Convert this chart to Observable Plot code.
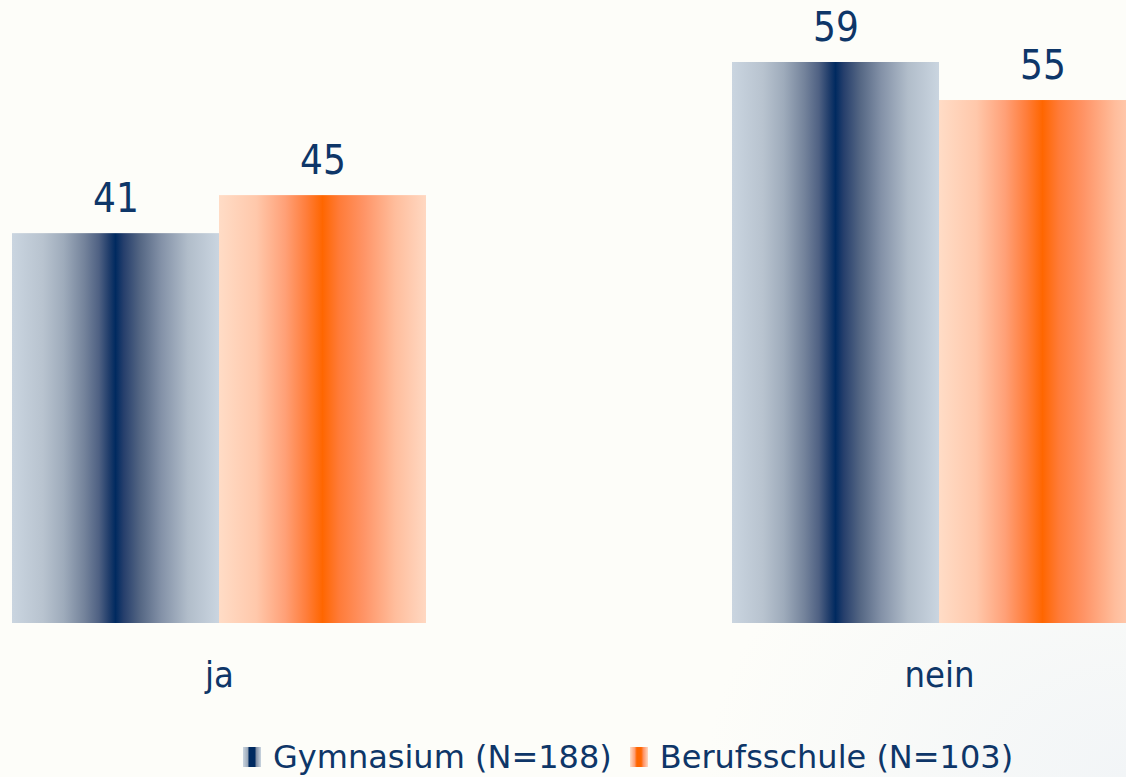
<!DOCTYPE html>
<html lang="de">
<head>
<meta charset="utf-8">
<script src="https://cdn.jsdelivr.net/npm/d3@7"></script>
<script src="https://cdn.jsdelivr.net/npm/@observablehq/plot@0.6"></script>
<style>
  html, body {
    margin: 0;
    padding: 0;
    width: 1126px;
    height: 777px;
    overflow: hidden;
    background: radial-gradient(ellipse 420px 320px at 1126px 777px, #f2f5f7 0%, #fdfdf9 100%), #fdfdf9;
  }
  #chart { position: absolute; left: 0; top: 0; }
  #legend {
    position: absolute;
    left: 243px;
    top: 739px;
    height: 36px;
    display: flex;
    align-items: center;
    font-family: "DejaVu Sans", Verdana, sans-serif;
    font-size: 32px;
    line-height: 36px;
    color: #0e3668;
    white-space: nowrap;
  }
  #legend .swatch { width: 18px; height: 20px; margin-right: 12px; }
  #legend .item { display: flex; align-items: center; margin-right: 18px; }
</style>
</head>
<body>
<div id="chart"></div>
<div id="legend"></div>
<script>
// Answers on the horizontal axis and the two school types
const categories = ["ja", "nein"];
const series = ["Gymnasium", "Berufsschule"];
// Percentages per answer
const gymnasium = [41, 59];
const berufsschule = [45, 55];
const legendLabels = ["Gymnasium (N=188)", "Berufsschule (N=103)"];

const navy = "#0e3668";

const rows = categories.flatMap((answer, i) => [
  {answer, school: series[0], value: gymnasium[i]},
  {answer, school: series[1], value: berufsschule[i]}
]);

// Horizontal gradients used to fill the bars (light edges, saturated centre)
const gradients = {
  gradG: [
    [0, "#cad5e0"], [0.15, "#b8c3cf"], [0.25, "#9eabbb"], [0.35, "#74839b"],
    [0.42, "#4f6183"], [0.47, "#1f3c6a"], [0.5, "#002a60"], [0.54, "#263f6c"],
    [0.62, "#556784"], [0.72, "#8391a7"], [0.85, "#b1bdca"], [1, "#cad5e0"]
  ],
  gradB: [
    [0, "#ffdcc6"], [0.18, "#ffc8ab"], [0.32, "#ffa077"], [0.42, "#ff7e3c"],
    [0.5, "#ff6600"], [0.58, "#ff7b38"], [0.7, "#ff9466"], [0.85, "#ffbd9c"],
    [1, "#ffd8c2"]
  ]
};

function gradientDefs() {
  const defs = d3.create("svg:defs");
  for (const [id, stops] of Object.entries(gradients)) {
    const g = defs.append("linearGradient")
      .attr("id", id)
      .attr("x1", "0").attr("x2", "1").attr("y1", "0").attr("y2", "0");
    for (const [offset, color] of stops) {
      g.append("stop").attr("offset", offset).attr("stop-color", color);
    }
  }
  return defs.node();
}

const chart = Plot.plot({
  width: 1126,
  height: 725,
  marginTop: 0,
  marginBottom: 102,
  marginLeft: 12,
  marginRight: 0,
  style: {
    fontFamily: '"DejaVu Sans Condensed", "DejaVu Sans", Tahoma, sans-serif',
    fontStretch: "condensed",
    color: navy,
    background: "transparent",
    overflow: "visible"
  },
  fx: {domain: categories, range: [12, 1146], paddingInner: 0.425, paddingOuter: 0, label: null},
  x: {domain: series, padding: 0, axis: null},
  y: {domain: [0, 59], range: [623, 62], axis: null},
  marks: [
    gradientDefs,
    Plot.barY(rows, {
      filter: d => d.school === series[0],
      fx: "answer", x: "school", y: "value",
      fill: "url(#gradG)"
    }),
    Plot.barY(rows, {
      filter: d => d.school === series[1],
      fx: "answer", x: "school", y: "value",
      fill: "url(#gradB)"
    }),
    Plot.text(rows, {
      fx: "answer", x: "school", y: "value",
      text: d => String(d.value),
      lineAnchor: "bottom",
      dy: -22,
      fontSize: 40,
      fill: navy
    }),
    Plot.axisFx({
      anchor: "bottom",
      tickSize: 0,
      tickPadding: 38,
      fontSize: 36,
      label: null
    })
  ]
});
document.getElementById("chart").append(chart);

// Legend below the chart with small gradient swatches
const legend = d3.select("#legend");
const swatchGradients = [
  "linear-gradient(to right, #cad5e0 0%, #9eabbb 25%, #002a60 35%, #002a60 65%, #8391a7 75%, #cad5e0 100%)",
  "linear-gradient(to right, #ffdcc6 0%, #ffa077 25%, #ff6600 38%, #ff6600 62%, #ff9466 75%, #ffd8c2 100%)"
];
legendLabels.forEach((label, i) => {
  const item = legend.append("div").attr("class", "item");
  item.append("div").attr("class", "swatch").style("background", swatchGradients[i]);
  item.append("span").text(label);
});
</script>
</body>
</html>
